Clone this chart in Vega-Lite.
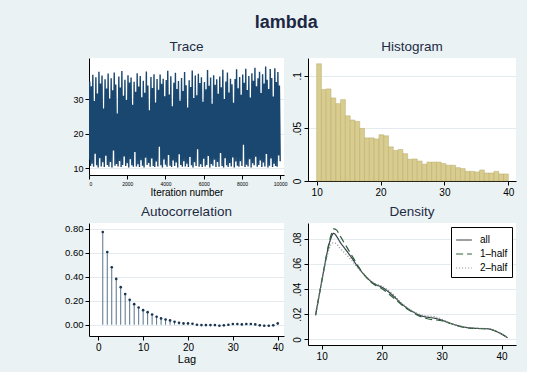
{
  "$schema": "https://vega.github.io/schema/vega-lite/v6.json",
  "background": "#EAF2F3",
  "padding": {"left": 64, "top": 13, "right": 11, "bottom": 8},
  "title": {"text": "lambda", "fontSize": 18, "font": "Liberation Sans", "fontWeight": "bold", "color": "#1c2743", "anchor": "middle", "frame": "bounds", "dx": -4, "offset": 8},
  "columns": 2,
  "bounds": "flush",
  "spacing": {"row": 42, "column": 24},
  "resolve": {"legend": {"color": "independent", "strokeDash": "independent"}},
  "datasets": {
    "trace": [
      {"i":0,"v":12.4},{"i":40,"v":35.2},{"i":80,"v":10.6},{"i":120,"v":33.8},{"i":160,"v":11.3},{"i":200,"v":37.1},{"i":240,"v":10.4},{"i":280,"v":29.5},{"i":320,"v":14.2},{"i":360,"v":36.4},
      {"i":400,"v":10.8},{"i":440,"v":31.7},{"i":480,"v":10.2},{"i":520,"v":38.0},{"i":560,"v":12.9},{"i":600,"v":34.6},{"i":640,"v":10.5},{"i":680,"v":36.9},{"i":720,"v":11.7},{"i":760,"v":27.3},
      {"i":800,"v":10.3},{"i":840,"v":35.8},{"i":880,"v":13.6},{"i":920,"v":33.1},{"i":960,"v":10.9},{"i":1000,"v":37.5},{"i":1040,"v":10.4},{"i":1080,"v":30.2},{"i":1120,"v":11.8},{"i":1160,"v":36.1},
      {"i":1200,"v":10.2},{"i":1240,"v":32.6},{"i":1280,"v":15.1},{"i":1320,"v":37.8},{"i":1360,"v":10.7},{"i":1400,"v":34.3},{"i":1440,"v":11.2},{"i":1480,"v":25.9},{"i":1520,"v":10.5},{"i":1560,"v":36.6},
      {"i":1600,"v":12.1},{"i":1640,"v":33.4},{"i":1680,"v":10.3},{"i":1720,"v":38.2},{"i":1760,"v":10.9},{"i":1800,"v":31.0},{"i":1840,"v":13.4},{"i":1880,"v":35.7},{"i":1920,"v":10.6},{"i":1960,"v":29.8},
      {"i":2000,"v":11.4},{"i":2040,"v":37.0},{"i":2080,"v":10.2},{"i":2120,"v":34.9},{"i":2160,"v":12.6},{"i":2200,"v":36.3},{"i":2240,"v":10.8},{"i":2280,"v":28.4},{"i":2320,"v":10.4},{"i":2360,"v":35.1},
      {"i":2400,"v":14.7},{"i":2440,"v":32.2},{"i":2480,"v":10.5},{"i":2520,"v":37.6},{"i":2560,"v":11.1},{"i":2600,"v":33.7},{"i":2640,"v":10.3},{"i":2680,"v":36.8},{"i":2720,"v":12.3},{"i":2760,"v":30.6},
      {"i":2800,"v":10.7},{"i":2840,"v":35.4},{"i":2880,"v":10.2},{"i":2920,"v":31.9},{"i":2960,"v":13.0},{"i":3000,"v":38.1},{"i":3040,"v":10.9},{"i":3080,"v":34.0},{"i":3120,"v":11.5},{"i":3160,"v":26.8},
      {"i":3200,"v":10.4},{"i":3240,"v":36.5},{"i":3280,"v":12.8},{"i":3320,"v":33.3},{"i":3360,"v":10.6},{"i":3400,"v":37.3},{"i":3440,"v":10.3},{"i":3480,"v":29.1},{"i":3520,"v":11.9},{"i":3560,"v":35.9},
      {"i":3600,"v":10.5},{"i":3640,"v":32.8},{"i":3680,"v":16.2},{"i":3720,"v":37.2},{"i":3760,"v":10.8},{"i":3800,"v":34.5},{"i":3840,"v":10.2},{"i":3880,"v":36.0},{"i":3920,"v":12.5},{"i":3960,"v":30.9},
      {"i":4000,"v":11.0},{"i":4040,"v":35.6},{"i":4080,"v":10.4},{"i":4120,"v":38.3},{"i":4160,"v":13.8},{"i":4200,"v":31.4},{"i":4240,"v":10.7},{"i":4280,"v":36.7},{"i":4320,"v":10.3},{"i":4360,"v":28.0},
      {"i":4400,"v":12.2},{"i":4440,"v":34.8},{"i":4480,"v":10.6},{"i":4520,"v":37.7},{"i":4560,"v":11.6},{"i":4600,"v":33.0},{"i":4640,"v":10.2},{"i":4680,"v":35.3},{"i":4720,"v":14.0},{"i":4760,"v":29.6},
      {"i":4800,"v":10.9},{"i":4840,"v":36.2},{"i":4880,"v":10.4},{"i":4920,"v":32.4},{"i":4960,"v":12.0},{"i":5000,"v":37.9},{"i":5040,"v":10.5},{"i":5080,"v":34.1},{"i":5120,"v":11.3},{"i":5160,"v":27.6},
      {"i":5200,"v":10.3},{"i":5240,"v":35.5},{"i":5280,"v":13.2},{"i":5320,"v":33.6},{"i":5360,"v":10.8},{"i":5400,"v":38.4},{"i":5440,"v":10.2},{"i":5480,"v":30.4},{"i":5520,"v":11.7},{"i":5560,"v":36.9},
      {"i":5600,"v":10.6},{"i":5640,"v":31.2},{"i":5680,"v":15.5},{"i":5720,"v":37.4},{"i":5760,"v":10.4},{"i":5800,"v":34.7},{"i":5840,"v":11.1},{"i":5880,"v":36.4},{"i":5920,"v":10.3},{"i":5960,"v":29.3},
      {"i":6000,"v":12.7},{"i":6040,"v":35.0},{"i":6080,"v":10.5},{"i":6120,"v":32.9},{"i":6160,"v":10.9},{"i":6200,"v":38.5},{"i":6240,"v":13.5},{"i":6280,"v":33.9},{"i":6320,"v":10.2},{"i":6360,"v":36.3},
      {"i":6400,"v":11.2},{"i":6440,"v":28.7},{"i":6480,"v":10.7},{"i":6520,"v":37.0},{"i":6560,"v":12.4},{"i":6600,"v":34.2},{"i":6640,"v":10.3},{"i":6680,"v":35.8},{"i":6720,"v":11.8},{"i":6760,"v":31.6},
      {"i":6800,"v":10.4},{"i":6840,"v":36.6},{"i":6880,"v":14.4},{"i":6920,"v":33.5},{"i":6960,"v":10.6},{"i":7000,"v":38.6},{"i":7040,"v":10.2},{"i":7080,"v":30.1},{"i":7120,"v":12.9},{"i":7160,"v":35.2},
      {"i":7200,"v":10.8},{"i":7240,"v":37.8},{"i":7280,"v":10.3},{"i":7320,"v":32.0},{"i":7360,"v":11.5},{"i":7400,"v":36.0},{"i":7440,"v":10.5},{"i":7480,"v":34.4},{"i":7520,"v":13.1},{"i":7560,"v":29.0},
      {"i":7600,"v":10.2},{"i":7640,"v":35.9},{"i":7680,"v":11.9},{"i":7720,"v":38.7},{"i":7760,"v":10.7},{"i":7800,"v":33.2},{"i":7840,"v":10.4},{"i":7880,"v":36.5},{"i":7920,"v":12.0},{"i":7960,"v":31.3},
      {"i":8000,"v":10.6},{"i":8040,"v":37.2},{"i":8080,"v":16.8},{"i":8120,"v":34.8},{"i":8160,"v":10.3},{"i":8200,"v":38.9},{"i":8240,"v":11.0},{"i":8280,"v":32.7},{"i":8320,"v":10.5},{"i":8360,"v":36.8},
      {"i":8400,"v":12.6},{"i":8440,"v":30.5},{"i":8480,"v":10.2},{"i":8520,"v":37.6},{"i":8560,"v":11.4},{"i":8600,"v":35.4},{"i":8640,"v":10.8},{"i":8680,"v":39.2},{"i":8720,"v":13.3},{"i":8760,"v":33.8},
      {"i":8800,"v":10.4},{"i":8840,"v":36.1},{"i":8880,"v":10.9},{"i":8920,"v":38.0},{"i":8960,"v":12.2},{"i":9000,"v":31.8},{"i":9040,"v":10.3},{"i":9080,"v":37.3},{"i":9120,"v":11.6},{"i":9160,"v":34.6},
      {"i":9200,"v":10.5},{"i":9240,"v":39.5},{"i":9280,"v":14.1},{"i":9320,"v":35.7},{"i":9360,"v":10.2},{"i":9400,"v":33.0},{"i":9440,"v":10.7},{"i":9480,"v":38.8},{"i":9520,"v":12.8},{"i":9560,"v":36.2},
      {"i":9600,"v":10.3},{"i":9640,"v":30.8},{"i":9680,"v":11.3},{"i":9720,"v":39.0},{"i":9760,"v":10.6},{"i":9800,"v":35.0},{"i":9840,"v":10.4},{"i":9880,"v":37.9},{"i":9920,"v":13.7},{"i":9960,"v":34.0},
      {"i":10000,"v":12.0}
    ],
    "hist": [
      {"b0":10,"b1":10.75,"d":0.1115},{"b0":10.75,"b1":11.5,"d":0.087},{"b0":11.5,"b1":12.25,"d":0.0876},{"b0":12.25,"b1":13,"d":0.079},
      {"b0":13,"b1":13.75,"d":0.0736},{"b0":13.75,"b1":14.5,"d":0.0774},{"b0":14.5,"b1":15.25,"d":0.062},{"b0":15.25,"b1":16,"d":0.058},
      {"b0":16,"b1":16.75,"d":0.0567},{"b0":16.75,"b1":17.5,"d":0.05},{"b0":17.5,"b1":18.25,"d":0.041},{"b0":18.25,"b1":19,"d":0.041},
      {"b0":19,"b1":19.75,"d":0.04},{"b0":19.75,"b1":20.5,"d":0.044},{"b0":20.5,"b1":21.25,"d":0.043},{"b0":21.25,"b1":22,"d":0.0325},
      {"b0":22,"b1":22.75,"d":0.029},{"b0":22.75,"b1":23.5,"d":0.03},{"b0":23.5,"b1":24.25,"d":0.026},{"b0":24.25,"b1":25,"d":0.0207},
      {"b0":25,"b1":25.75,"d":0.021},{"b0":25.75,"b1":26.5,"d":0.019},{"b0":26.5,"b1":27.25,"d":0.016},{"b0":27.25,"b1":28,"d":0.018},
      {"b0":28,"b1":28.75,"d":0.018},{"b0":28.75,"b1":29.5,"d":0.018},{"b0":29.5,"b1":30.25,"d":0.0166},{"b0":30.25,"b1":31,"d":0.015},
      {"b0":31,"b1":31.75,"d":0.015},{"b0":31.75,"b1":32.5,"d":0.0127},{"b0":32.5,"b1":33.25,"d":0.0118},{"b0":33.25,"b1":34,"d":0.0092},
      {"b0":34,"b1":34.75,"d":0.0092},{"b0":34.75,"b1":35.5,"d":0.0086},{"b0":35.5,"b1":36.25,"d":0.0105},{"b0":36.25,"b1":37,"d":0.0076},
      {"b0":37,"b1":37.75,"d":0.0076},{"b0":37.75,"b1":38.5,"d":0.0092},{"b0":38.5,"b1":39.25,"d":0.0067},{"b0":39.25,"b1":40,"d":0.0067}
    ],
    "acf": [
      {"lag":1,"ac":0.775},{"lag":2,"ac":0.608},{"lag":3,"ac":0.48},{"lag":4,"ac":0.383},{"lag":5,"ac":0.314},
      {"lag":6,"ac":0.256},{"lag":7,"ac":0.208},{"lag":8,"ac":0.172},{"lag":9,"ac":0.144},{"lag":10,"ac":0.122},
      {"lag":11,"ac":0.105},{"lag":12,"ac":0.086},{"lag":13,"ac":0.067},{"lag":14,"ac":0.053},{"lag":15,"ac":0.044},
      {"lag":16,"ac":0.036},{"lag":17,"ac":0.025},{"lag":18,"ac":0.017},{"lag":19,"ac":0.011},{"lag":20,"ac":0.011},
      {"lag":21,"ac":0.008},{"lag":22,"ac":0.0},{"lag":23,"ac":-0.003},{"lag":24,"ac":-0.003},{"lag":25,"ac":-0.003},
      {"lag":26,"ac":-0.003},{"lag":27,"ac":-0.008},{"lag":28,"ac":-0.005},{"lag":29,"ac":0.0},{"lag":30,"ac":0.006},
      {"lag":31,"ac":0.006},{"lag":32,"ac":0.003},{"lag":33,"ac":0.006},{"lag":34,"ac":0.006},{"lag":35,"ac":0.003},
      {"lag":36,"ac":-0.005},{"lag":37,"ac":-0.008},{"lag":38,"ac":-0.008},{"lag":39,"ac":-0.005},{"lag":40,"ac":0.011}
    ],
    "dens": [
      {"x":9,"y":0.02,"s":"all"},{"x":9.5,"y":0.033,"s":"all"},{"x":10,"y":0.046,"s":"all"},{"x":10.5,"y":0.059,"s":"all"},{"x":11,"y":0.071,"s":"all"},{"x":11.5,"y":0.08,"s":"all"},{"x":12,"y":0.0845,"s":"all"},{"x":12.5,"y":0.082,"s":"all"},{"x":13,"y":0.078,"s":"all"},{"x":14,"y":0.0715,"s":"all"},{"x":15,"y":0.065,"s":"all"},{"x":16,"y":0.058,"s":"all"},{"x":17,"y":0.052,"s":"all"},{"x":18,"y":0.047,"s":"all"},{"x":19,"y":0.0437,"s":"all"},{"x":20,"y":0.0416,"s":"all"},{"x":21,"y":0.0384,"s":"all"},{"x":22,"y":0.0344,"s":"all"},{"x":23,"y":0.0297,"s":"all"},{"x":24,"y":0.0257,"s":"all"},{"x":25,"y":0.0225,"s":"all"},{"x":26,"y":0.0199,"s":"all"},{"x":27,"y":0.0182,"s":"all"},{"x":28,"y":0.0174,"s":"all"},{"x":29,"y":0.0167,"s":"all"},{"x":30,"y":0.0154,"s":"all"},{"x":31,"y":0.0135,"s":"all"},{"x":32,"y":0.0119,"s":"all"},{"x":33,"y":0.0106,"s":"all"},{"x":34,"y":0.0095,"s":"all"},{"x":35,"y":0.009,"s":"all"},{"x":36,"y":0.0087,"s":"all"},{"x":37,"y":0.0086,"s":"all"},{"x":38,"y":0.0082,"s":"all"},{"x":39,"y":0.0066,"s":"all"},{"x":40,"y":0.0042,"s":"all"},{"x":41,"y":0.0013,"s":"all"},
      {"x":9,"y":0.019,"s":"1–half"},{"x":9.5,"y":0.033,"s":"1–half"},{"x":10,"y":0.046,"s":"1–half"},{"x":10.5,"y":0.059,"s":"1–half"},{"x":11,"y":0.072,"s":"1–half"},{"x":11.5,"y":0.082,"s":"1–half"},{"x":12,"y":0.088,"s":"1–half"},{"x":12.5,"y":0.087,"s":"1–half"},{"x":13,"y":0.083,"s":"1–half"},{"x":14,"y":0.075,"s":"1–half"},{"x":15,"y":0.067,"s":"1–half"},{"x":16,"y":0.059,"s":"1–half"},{"x":17,"y":0.052,"s":"1–half"},{"x":18,"y":0.0465,"s":"1–half"},{"x":19,"y":0.043,"s":"1–half"},{"x":20,"y":0.0405,"s":"1–half"},{"x":21,"y":0.037,"s":"1–half"},{"x":22,"y":0.033,"s":"1–half"},{"x":23,"y":0.029,"s":"1–half"},{"x":24,"y":0.025,"s":"1–half"},{"x":25,"y":0.022,"s":"1–half"},{"x":26,"y":0.0192,"s":"1–half"},{"x":27,"y":0.0172,"s":"1–half"},{"x":28,"y":0.016,"s":"1–half"},{"x":29,"y":0.0155,"s":"1–half"},{"x":30,"y":0.0148,"s":"1–half"},{"x":31,"y":0.0135,"s":"1–half"},{"x":32,"y":0.0118,"s":"1–half"},{"x":33,"y":0.0104,"s":"1–half"},{"x":34,"y":0.0094,"s":"1–half"},{"x":35,"y":0.0088,"s":"1–half"},{"x":36,"y":0.0086,"s":"1–half"},{"x":37,"y":0.0086,"s":"1–half"},{"x":38,"y":0.0082,"s":"1–half"},{"x":39,"y":0.0066,"s":"1–half"},{"x":40,"y":0.0042,"s":"1–half"},{"x":41,"y":0.0013,"s":"1–half"},
      {"x":9,"y":0.021,"s":"2–half"},{"x":9.5,"y":0.034,"s":"2–half"},{"x":10,"y":0.046,"s":"2–half"},{"x":10.5,"y":0.058,"s":"2–half"},{"x":11,"y":0.068,"s":"2–half"},{"x":11.5,"y":0.075,"s":"2–half"},{"x":12,"y":0.077,"s":"2–half"},{"x":12.5,"y":0.076,"s":"2–half"},{"x":13,"y":0.073,"s":"2–half"},{"x":14,"y":0.068,"s":"2–half"},{"x":15,"y":0.063,"s":"2–half"},{"x":16,"y":0.057,"s":"2–half"},{"x":17,"y":0.052,"s":"2–half"},{"x":18,"y":0.0475,"s":"2–half"},{"x":19,"y":0.0443,"s":"2–half"},{"x":20,"y":0.0425,"s":"2–half"},{"x":21,"y":0.0395,"s":"2–half"},{"x":22,"y":0.0355,"s":"2–half"},{"x":23,"y":0.0305,"s":"2–half"},{"x":24,"y":0.0262,"s":"2–half"},{"x":25,"y":0.023,"s":"2–half"},{"x":26,"y":0.0205,"s":"2–half"},{"x":27,"y":0.019,"s":"2–half"},{"x":28,"y":0.0185,"s":"2–half"},{"x":29,"y":0.018,"s":"2–half"},{"x":30,"y":0.0162,"s":"2–half"},{"x":31,"y":0.0138,"s":"2–half"},{"x":32,"y":0.012,"s":"2–half"},{"x":33,"y":0.0108,"s":"2–half"},{"x":34,"y":0.0097,"s":"2–half"},{"x":35,"y":0.0092,"s":"2–half"},{"x":36,"y":0.0088,"s":"2–half"},{"x":37,"y":0.0087,"s":"2–half"},{"x":38,"y":0.0083,"s":"2–half"},{"x":39,"y":0.0067,"s":"2–half"},{"x":40,"y":0.0043,"s":"2–half"},{"x":41,"y":0.0014,"s":"2–half"}
    ]
  },
  "concat": [
    {
      "width": 195, "height": 117,
      "title": "Trace",
      "data": {"name": "trace"},
      "mark": {"type": "line", "color": "#1a476f", "strokeWidth": 1.4, "clip": true},
      "encoding": {
        "x": {"field": "i", "type": "quantitative", "scale": {"domain": [0, 10200], "nice": false, "zero": false},
              "axis": {"values": [0, 2000, 4000, 6000, 8000, 10000], "format": "d", "labelFontSize": 5, "title": "Iteration number", "titleFontSize": 10, "titlePadding": 1, "grid": false}},
        "y": {"field": "v", "type": "quantitative", "scale": {"domain": [8, 42], "nice": false, "zero": false},
              "axis": {"values": [10, 20, 30], "title": null, "labelFontSize": 9}}
      }
    },
    {
      "width": 208, "height": 123,
      "title": "Histogram",
      "data": {"name": "hist"},
      "mark": {"type": "rect", "fill": "#D8CD8F", "stroke": "#B8AB6C", "strokeWidth": 0.5},
      "encoding": {
        "x": {"field": "b0", "type": "quantitative", "scale": {"domain": [8.65, 41.2], "nice": false, "zero": false},
              "axis": {"values": [10, 20, 30, 40], "title": null, "grid": false, "labelFontSize": 10}},
        "x2": {"field": "b1"},
        "y": {"field": "d", "type": "quantitative", "scale": {"domain": [0, 0.117], "nice": false},
              "axis": {"values": [0, 0.05, 0.1], "title": null, "labelAngle": -90, "labelFontSize": 10,
                       "labelExpr": "datum.value == 0 ? '0' : replace(format(datum.value, '~g'), '0.', '.')"}},
        "y2": {"datum": 0}
      }
    },
    {
      "width": 195, "height": 113,
      "title": "Autocorrelation",
      "data": {"name": "acf"},
      "encoding": {
        "x": {"field": "lag", "type": "quantitative", "scale": {"domain": [-2.07, 41.4], "nice": false, "zero": false},
              "axis": {"values": [0, 10, 20, 30, 40], "title": "Lag", "titleFontSize": 11, "titlePadding": 1, "grid": false, "labelFontSize": 10}},
        "y": {"field": "ac", "type": "quantitative", "scale": {"domain": [-0.094, 0.85], "nice": false, "zero": false},
              "axis": {"values": [0, 0.2, 0.4, 0.6, 0.8], "format": ".2f", "title": null, "labelFontSize": 9.5}}
      },
      "layer": [
        {"mark": {"type": "rule", "color": "#58738c", "strokeWidth": 1}, "encoding": {"y2": {"datum": 0}}},
        {"mark": {"type": "point", "filled": true, "size": 7, "color": "#1a3550", "opacity": 1}}
      ]
    },
    {
      "width": 208, "height": 122,
      "title": "Density",
      "data": {"name": "dens"},
      "mark": {"type": "line", "interpolate": "monotone", "strokeWidth": 1.2},
      "encoding": {
        "x": {"field": "x", "type": "quantitative", "scale": {"domain": [7.72, 42.4], "nice": false, "zero": false},
              "axis": {"values": [10, 20, 30, 40], "title": null, "grid": false, "labelFontSize": 10}},
        "y": {"field": "y", "type": "quantitative", "scale": {"domain": [-0.0045, 0.0927], "nice": false, "zero": false},
              "axis": {"values": [0, 0.02, 0.04, 0.06, 0.08], "title": null, "labelAngle": -90, "labelFontSize": 10,
                       "labelExpr": "datum.value == 0 ? '0' : replace(format(datum.value, '~g'), '0.', '.')"}},
        "color": {"field": "s", "type": "nominal", "sort": null,
                  "scale": {"domain": ["all", "1–half", "2–half"], "range": ["#34424a", "#2f5f3a", "#8a8a8a"]},
                  "legend": {"title": null, "orient": "top-right", "offset": 4, "fillColor": "white", "strokeColor": "black", "padding": 4, "symbolType": "stroke", "symbolSize": 250, "symbolStrokeWidth": 1.2, "labelFontSize": 10, "labelFont": "Liberation Sans", "rowPadding": 0, "labelOffset": 7}},
        "strokeDash": {"field": "s", "type": "nominal", "sort": null,
                  "scale": {"domain": ["all", "1–half", "2–half"], "range": [[1, 0], [7, 4], [1, 2]]},
                  "legend": {"title": null, "orient": "top-right", "offset": 4, "fillColor": "white", "strokeColor": "black", "padding": 4, "symbolType": "stroke", "symbolSize": 250, "symbolStrokeWidth": 1.2, "labelFontSize": 10, "labelFont": "Liberation Sans", "rowPadding": 0, "labelOffset": 7}}
      }
    }
  ],
  "config": {
    "view": {"fill": "white", "stroke": null},
    "title": {"font": "Liberation Sans", "fontSize": 13.5, "fontWeight": "normal", "color": "#1e2b45", "offset": 5},
    "axis": {"labelFont": "Liberation Sans", "titleFont": "Liberation Sans", "titleFontWeight": "normal", "labelColor": "#000000", "titleColor": "#000000",
             "domainColor": "#000000", "tickColor": "#000000", "tickSize": 4, "labelPadding": 2, "domainWidth": 1, "tickWidth": 1,
             "gridColor": "#e3ebee", "gridWidth": 1},
    "axisX": {"grid": false},
    "axisY": {"grid": true},
    "legend": {"labelColor": "#000000"}
  }
}
